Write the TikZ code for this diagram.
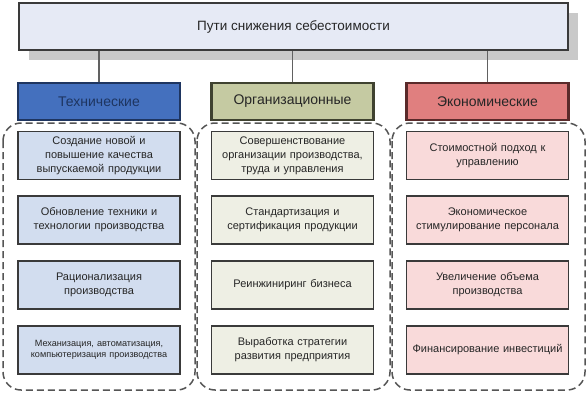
\documentclass[tikz,border=0pt]{standalone}
\usepackage{fontspec}
\setmainfont{Liberation Sans}
\definecolor{edge}{HTML}{3A3A3A}
\definecolor{txt}{HTML}{262626}
\definecolor{topfill}{HTML}{E6EAF5}
\definecolor{shadowc}{HTML}{C9C9C9}
\definecolor{hblue}{HTML}{4470BE}
\definecolor{hblueb}{HTML}{1E3560}
\definecolor{holive}{HTML}{C5CAA2}
\definecolor{holiveb}{HTML}{3F4230}
\definecolor{hred}{HTML}{E07F7F}
\definecolor{hredb}{HTML}{5A2A2A}
\definecolor{iblue}{HTML}{D2DDEF}
\definecolor{iolive}{HTML}{EEEFE4}
\definecolor{ipink}{HTML}{F9DADA}
\definecolor{dashc}{HTML}{555555}
\tikzset{
  topbox/.style={draw=edge, line width=1.8pt, fill=topfill, minimum width=549pt, minimum height=47pt, inner sep=0pt, font=\fontsize{13.5}{15}\selectfont, text=txt},
  headbox/.style={line width=2.4pt, minimum width=162pt, minimum height=37pt, inner sep=0pt, font=\fontsize{14}{16}\selectfont},
  itembox/.style={draw=edge, line width=1.3pt, minimum width=162pt, minimum height=48pt, inner sep=2pt, text width=158pt, align=center, font=\fontsize{11}{14}\selectfont, text=txt},
  container/.style={draw=dashc, line width=1.5pt, dash pattern=on 7pt off 4pt, rounded corners=18pt},
  link/.style={draw=edge!80, line width=1.6pt},
}
\begin{document}
\begin{tikzpicture}[x=1pt,y=-1pt]
\useasboundingbox (0,0) rectangle (588,404);
% containers
\draw[container] (3,123) rectangle (195,390);
\draw[container] (197,123) rectangle (390,390);
\draw[container] (392,123) rectangle (585,390);
% top shadow and box
\fill[shadowc] (29,13) rectangle (578,60);
\node[topbox] (top) at (293.5,26.5) {Пути снижения себестоимости};
% headers
\node[headbox, draw=hblueb, fill=hblue, text=hblueb] (h1) at (99,101.5) {Технические};
\node[headbox, draw=holiveb, fill=holive, text=txt] (h2) at (292.5,101.5) {Организационные};
\node[headbox, draw=hredb, fill=hred, text=txt] (h3) at (487.5,101.5) {Экономические};
\foreach \h in {h1,h2,h3}{\draw[link] (top.south -| \h.north) -- (\h.north);}
% items column 1
\node[itembox, fill=iblue] (a1) at (99,155.5) {Создание новой и\\повышение качества\\выпускаемой продукции};
\node[itembox, fill=iblue] (a2) at (99,220) {Обновление техники и\\технологии производства};
\node[itembox, fill=iblue] (a3) at (99,285) {Рационализация\\производства};
\node[itembox, fill=iblue, font=\fontsize{9.1}{11.5}\selectfont] (a4) at (99,350) {Механизация, автоматизация,\\компьютеризация производства};
% column 2
\node[itembox, fill=iolive] (b1) at (292.5,155.5) {Совершенствование\\организации производства,\\труда и управления};
\node[itembox, fill=iolive] (b2) at (292.5,220) {Стандартизация и\\сертификация продукции};
\node[itembox, fill=iolive] (b3) at (292.5,285) {Реинжиниринг бизнеса};
\node[itembox, fill=iolive] (b4) at (292.5,350) {Выработка стратегии\\развития предприятия};
% column 3
\node[itembox, fill=ipink] (c1) at (487.5,155.5) {Стоимостной подход к\\управлению};
\node[itembox, fill=ipink] (c2) at (487.5,220) {Экономическое\\стимулирование персонала};
\node[itembox, fill=ipink] (c3) at (487.5,285) {Увеличение объема\\производства};
\node[itembox, fill=ipink] (c4) at (487.5,350) {Финансирование инвестиций};
\end{tikzpicture}
\end{document}
